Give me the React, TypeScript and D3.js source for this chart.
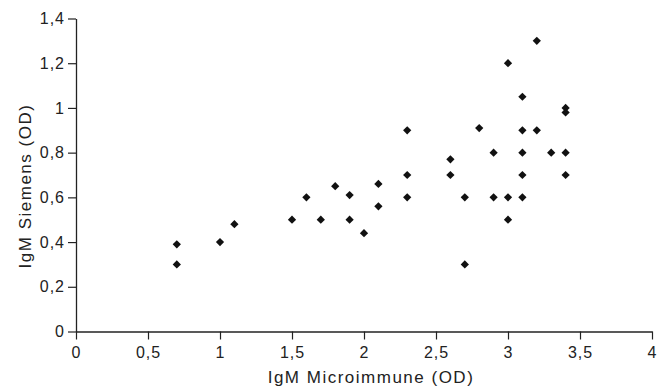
import { useEffect, useRef } from 'react';
import * as d3 from 'd3';

// IgM Microimmune (OD) vs IgM Siemens (OD)
const microimmune = [
  0.7, 0.7, 1.0, 1.1, 1.5, 1.6, 1.7, 1.8, 1.9, 1.9, 2.0, 2.1, 2.1, 2.3, 2.3, 2.3,
  2.6, 2.6, 2.7, 2.7, 2.8, 2.9, 2.9, 3.0, 3.0, 3.0, 3.1, 3.1, 3.1, 3.1, 3.1, 3.2,
  3.2, 3.3, 3.4, 3.4, 3.4, 3.4,
];
const siemens = [
  0.39, 0.3, 0.4, 0.48, 0.5, 0.6, 0.5, 0.65, 0.61, 0.5, 0.44, 0.66, 0.56, 0.9, 0.7,
  0.6, 0.77, 0.7, 0.6, 0.3, 0.91, 0.8, 0.6, 1.2, 0.6, 0.5, 1.05, 0.9, 0.8, 0.7, 0.6,
  1.3, 0.9, 0.8, 1.0, 0.98, 0.8, 0.7,
];
const xTicks = [0, 0.5, 1, 1.5, 2, 2.5, 3, 3.5, 4];
const yTicks = [0, 0.2, 0.4, 0.6, 0.8, 1, 1.2, 1.4];

const fmt = (v: number) => String(v).replace('.', ',');
const font = '"Liberation Sans", Arial, sans-serif';

export default function App() {
  const ref = useRef<SVGSVGElement>(null);

  useEffect(() => {
    if (!ref.current) return;
    const svg = d3.select(ref.current);
    svg.selectAll('*').remove();

    const left = 76;
    const right = 652;
    const top = 18.5;
    const bottom = 331.5;
    const ink = '#222';

    const x = d3.scaleLinear().domain([0, 4]).range([left, right]);
    const y = d3.scaleLinear().domain([0, 1.4]).range([bottom, top]);

    // X axis
    const xAxis = svg
      .append('g')
      .attr('transform', `translate(0,${bottom})`)
      .call(d3.axisBottom(x).tickValues(xTicks).tickSize(8).tickSizeOuter(0).tickPadding(7).tickFormat((d) => fmt(+d)));
    xAxis.select('.domain').attr('stroke', ink).attr('stroke-width', 1.3);
    xAxis.selectAll('line').attr('stroke', ink).attr('stroke-width', 1.2);
    xAxis
      .selectAll('text')
      .attr('fill', ink)
      .style('font-family', font)
      .style('font-size', '16px')
      .style('letter-spacing', '1px');

    // Y axis
    const yAxis = svg
      .append('g')
      .attr('transform', `translate(${left},0)`)
      .call(d3.axisLeft(y).tickValues(yTicks).tickSize(8).tickSizeOuter(0).tickPadding(3).tickFormat((d) => fmt(+d)));
    yAxis.select('.domain').attr('stroke', ink).attr('stroke-width', 1.3);
    yAxis.selectAll('line').attr('stroke', ink).attr('stroke-width', 1.2);
    yAxis
      .selectAll('text')
      .attr('fill', ink)
      .style('font-family', font)
      .style('font-size', '16px')
      .style('letter-spacing', '1px');

    // Axis titles
    svg
      .append('text')
      .attr('x', 371)
      .attr('y', 383)
      .attr('text-anchor', 'middle')
      .attr('fill', ink)
      .style('font-family', font)
      .style('font-size', '17px')
      .style('letter-spacing', '1.5px')
      .text('IgM Microimmune (OD)');

    svg
      .append('text')
      .attr('transform', `translate(31,186) rotate(-90)`)
      .attr('text-anchor', 'middle')
      .attr('fill', ink)
      .style('font-family', font)
      .style('font-size', '17px')
      .style('letter-spacing', '1.5px')
      .text('IgM Siemens (OD)');

    // Diamond markers
    const symbol = d3.symbol().type(d3.symbolSquare).size(34);
    svg
      .append('g')
      .selectAll('path')
      .data(microimmune.map((v, i) => ({ x: v, y: siemens[i] })))
      .enter()
      .append('path')
      .attr('d', symbol)
      .attr('transform', (d) => `translate(${x(d.x)},${y(d.y)}) rotate(45)`)
      .attr('fill', '#111');
  }, []);

  return (
    <div style={{ position: 'absolute', left: 0, top: 0 }}>
      <svg ref={ref} width={660} height={388} style={{ display: 'block', background: '#fff' }} />
    </div>
  );
}
